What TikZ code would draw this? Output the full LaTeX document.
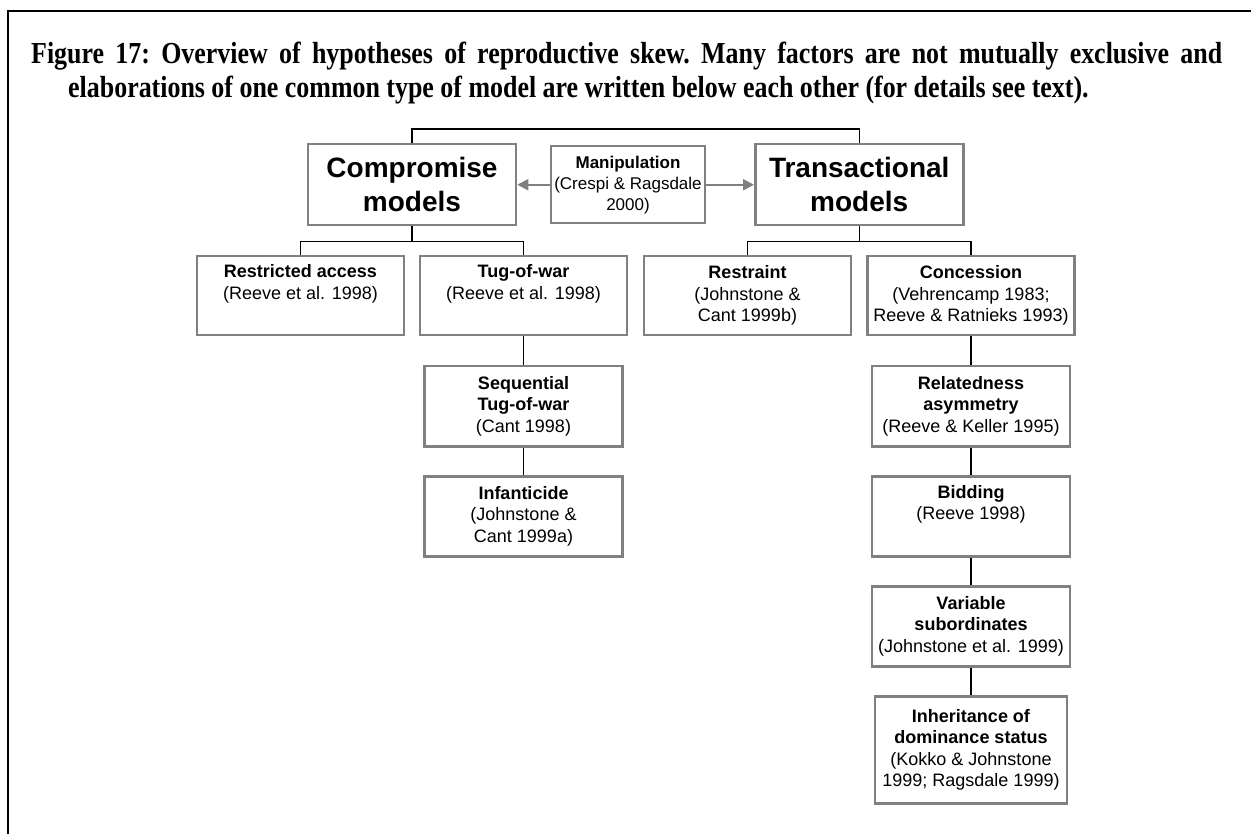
\documentclass[tikz,border=0pt]{standalone}
\usepackage{fontspec}
\setmainfont{Liberation Serif}
\setsansfont{Liberation Sans}
\newfontfamily\captionfont[FakeStretch=0.85]{Liberation Serif}
\usetikzlibrary{arrows.meta}

\definecolor{boxgray}{RGB}{128,128,128}

\tikzset{
    modelbox/.style={draw=boxgray, line width=2.5pt, minimum width=208pt, minimum height=81pt,
        inner sep=0pt, align=center, anchor=north, font=\sffamily\bfseries\fontsize{28}{34}\selectfont},
    refbox/.style={draw=boxgray, line width=2.5pt, minimum width=207pt, minimum height=79pt,
        inner sep=0pt, align=center, anchor=north, font=\sffamily\fontsize{18}{21.5}\selectfont},
    link/.style={line width=1.3pt},
    pointer/.style={draw=boxgray, line width=2pt, -{Triangle[length=11pt,width=11pt]}}
}

\begin{document}
\begin{tikzpicture}[x=1pt, y=-1pt]
    \useasboundingbox (0,0) rectangle (1251,834);

    % Frame
    \draw[line width=2pt] (8,834) -- (8,11) -- (1251,11);

    % Caption
    \node[anchor=north west, text width=1191pt, align=justify, inner sep=0pt,
        font=\captionfont\bfseries\fontsize{30.5}{34}\selectfont] (caption) at (31,42)
        {\frenchspacing\hyphenpenalty=10000\hangindent=37pt\hangafter=1 Figure 17: Overview of hypotheses of reproductive skew. Many factors are not mutually exclusive and\linebreak elaborations of one common type of model are written below each other (for details see text).\par};

    % Main model types
    \node[modelbox] (comp) at (412,143) {Compromise\\models};
    \node[modelbox] (trans) at (859.25,143) {Transactional\\models};
    \node[refbox, minimum width=154pt, minimum height=77pt, font=\sffamily\fontsize{17}{21}\selectfont] (manip) at (628,145)
        {\textbf{Manipulation}\\(Crespi \& Ragsdale\\2000)};

    % Compromise models
    \node[refbox] (restr) at (300.5,255) {\textbf{Restricted access}\\(Reeve et al. 1998)\\\strut};
    \node[refbox] (tug) at (523.5,255) {\textbf{Tug-of-war}\\(Reeve et al. 1998)\\\strut};
    \node[refbox, minimum width=198pt, minimum height=80pt] (seq) at (523.5,365)
        {\textbf{Sequential}\\\textbf{Tug-of-war}\\(Cant 1998)};
    \node[refbox, minimum width=198pt, minimum height=80pt] (infant) at (523.5,475)
        {\textbf{Infanticide}\\(Johnstone \&\\Cant 1999a)};

    % Transactional models
    \node[refbox] (restraint) at (747.5,255) {\textbf{Restraint}\\(Johnstone \&\\Cant 1999b)};
    \node[refbox] (conc) at (971,255) {\textbf{Concession}\\(Vehrencamp 1983;\\Reeve \& Ratnieks 1993)};
    \node[refbox, minimum width=198pt, minimum height=80pt] (related) at (971,365)
        {\textbf{Relatedness}\\\textbf{asymmetry}\\(Reeve \& Keller 1995)};
    \node[refbox, minimum width=198pt, minimum height=80pt] (bid) at (971,475)
        {\textbf{Bidding}\\(Reeve 1998)\\\strut};
    \node[refbox, minimum width=198pt, minimum height=80pt] (variable) at (971,585)
        {\textbf{Variable}\\\textbf{subordinates}\\(Johnstone et al. 1999)};
    \node[refbox, minimum width=192pt, minimum height=107pt] (inherit) at (971,695)
        {\textbf{Inheritance of}\\\textbf{dominance status}\\(Kokko \& Johnstone\\1999; Ragsdale 1999)};

    % Tree lines
    \draw[link] (comp.north) -- ++(0,-14) -| (trans.north);
    \draw[link] (comp.south) -- ++(0,15) coordinate (compfork);
    \draw[link] (restr.north) |- (compfork) -| (tug.north);
    \draw[link] (trans.south) -- ++(0,15) coordinate (transfork);
    \draw[link] (restraint.north) |- (transfork) -| (conc.north);
    \foreach \a/\b in {tug/seq, seq/infant, conc/related, related/bid, bid/variable, variable/inherit}
        \draw[link] (\a.south) -- (\b.north);

    % Manipulation acts on both
    \draw[pointer] (manip.west) -- (comp.east);
    \draw[pointer] (manip.east) -- (trans.west);
\end{tikzpicture}
\end{document}
